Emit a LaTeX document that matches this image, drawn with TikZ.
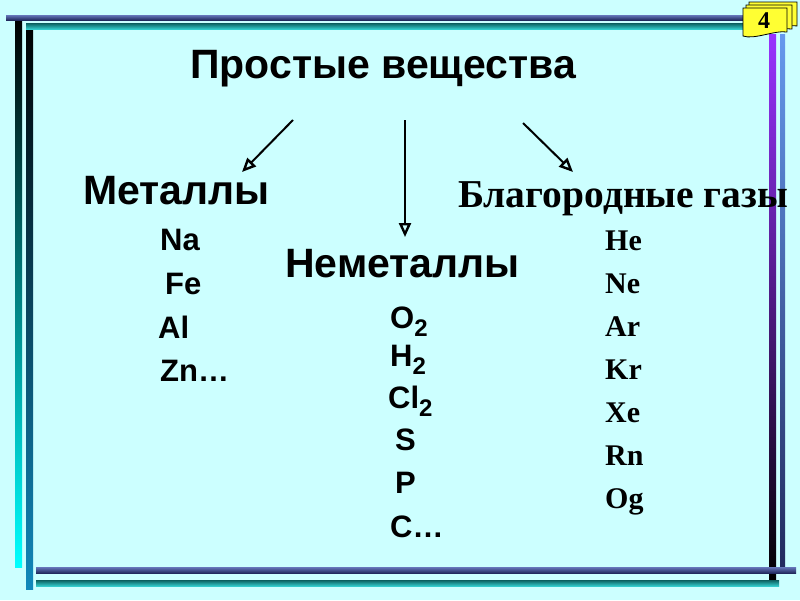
\documentclass[tikz,border=0pt]{standalone}
\usepackage{fontspec}
\setmainfont{Liberation Serif}
\setsansfont{Liberation Sans}
\usetikzlibrary{arrows.meta}
\definecolor{bgcyan}{HTML}{CCFFFF}
\definecolor{navy}{HTML}{222A5E}
\definecolor{navylight}{HTML}{6677BB}
\definecolor{tealdark}{HTML}{0B5E5E}
\definecolor{teallight}{HTML}{33CCCC}
\definecolor{padyellow}{HTML}{FFFF33}
\newcommand{\lowtwo}{\raisebox{-0.5ex}{\fontsize{24}{28}\selectfont 2}}
\tikzset{
  heading/.style={inner sep=0pt,anchor=base west,font=\sffamily\bfseries\fontsize{41}{46}\selectfont},
  gasheading/.style={inner sep=0pt,anchor=base west,font=\rmfamily\bfseries\fontsize{39.5}{46}\selectfont},
  item/.style={inner sep=0pt,anchor=base west,font=\sffamily\bfseries\fontsize{31}{36}\selectfont},
  gasitem/.style={inner sep=0pt,anchor=base west,font=\rmfamily\bfseries\fontsize{30}{34}\selectfont},
  branch/.style={draw=black,line width=2pt,-{Triangle[open,length=14pt,width=12pt,line width=2.4pt]}},
  page/.style={draw=black,line width=0.8pt,fill=padyellow}
}
\begin{document}
\begin{tikzpicture}[x=1pt,y=-1pt]
\useasboundingbox (0,0) rectangle (800,600);
\fill[bgcyan] (0,0) rectangle (800,600);
% frame bars
\shade[top color=black,bottom color=cyan] (15,20) rectangle (22,567);
\shade[top color=black,bottom color={rgb,255:red,17;green,136;blue,187}] (26,23) rectangle (33,589);
\shade[top color={rgb,255:red,153;green,51;blue,255},bottom color=black] (769,34) rectangle (776,582);
\shade[top color={rgb,255:red,102;green,153;blue,238},bottom color=navy] (780,34) rectangle (785,567);
\shade[top color=navylight,bottom color=navy] (6,15) rectangle (745,20);
\shade[top color=tealdark,bottom color=teallight] (26,23) rectangle (745,29);
\shade[top color=navylight,bottom color=navy] (36,567) rectangle (796,573);
\shade[top color=tealdark,bottom color=teallight] (36,580) rectangle (779,586);
% slide number
\draw[page] (749,2) -- (797,2) -- (797,26) .. controls (785,24) and (760,34) .. (749,30) -- cycle;
\draw[page] (746,5) -- (792,5) -- (792,29) .. controls (780,27) and (757,37) .. (746,33) -- cycle;
\draw[page] (743,8) -- (787,8) -- (787,32) .. controls (775,30) and (754,40) .. (743,36) -- cycle;
\node[font=\rmfamily\bfseries\fontsize{24}{28}\selectfont,inner sep=0pt] (num) at (764,21) {4};
% headings
\node[heading] (title) at (190,78) {Простые вещества};
\node[heading] (met) at (83,204) {Металлы};
\node[heading] (nonmet) at (285,277) {Неметаллы};
\node[gasheading] (gas) at (458,207) {Благородные газы};
% arrows
\coordinate (lstart) at (293,120);
\coordinate (lend) at (242,172);
\coordinate (mstart) at (405,120);
\coordinate (mend) at (405,237);
\coordinate (rstart) at (523,123);
\coordinate (rend) at (573,172);
\draw[branch] (lstart) -- (lend);
\draw[branch] (mstart) -- (mend);
\draw[branch] (rstart) -- (rend);
% metals
\node[item] (na) at (160,250) {Na};
\node[item] (fe) at (165,294) {Fe};
\node[item] (al) at (158,338) {Al};
\node[item] (zn) at (160,381) {Zn…};
% nonmetals
\node[item] (o2) at (390,328) {O\lowtwo};
\node[item] (h2) at (390,366) {H\lowtwo};
\node[item] (cl2) at (388,408) {Cl\lowtwo};
\node[item] (s) at (395,450) {S};
\node[item] (p) at (395,493) {P};
\node[item] (c) at (390,537) {C…};
% noble gases
\node[gasitem] (he) at (605,250) {He};
\node[gasitem] (ne) at (605,293) {Ne};
\node[gasitem] (ar) at (605,336) {Ar};
\node[gasitem] (kr) at (605,379) {Kr};
\node[gasitem] (xe) at (605,422) {Xe};
\node[gasitem] (rn) at (605,465) {Rn};
\node[gasitem] (og) at (605,508) {Og};
\end{tikzpicture}
\end{document}
